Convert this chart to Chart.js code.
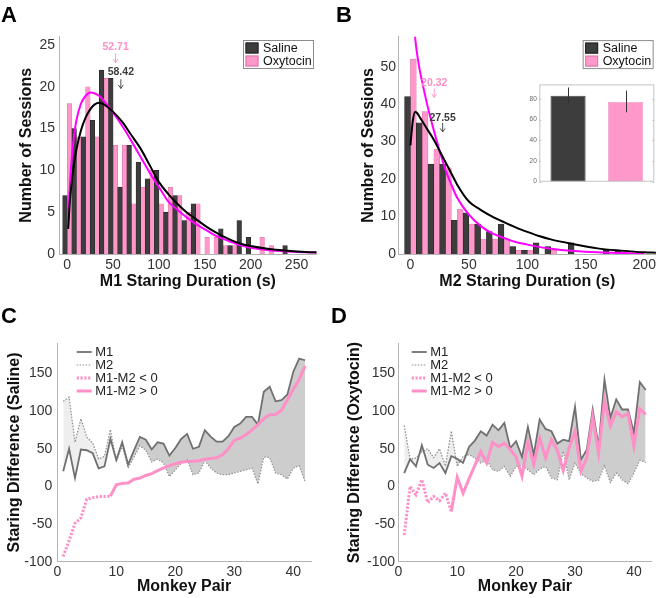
<!DOCTYPE html>
<html>
<head>
<meta charset="utf-8">
<title>Staring duration</title>
<script src="https://cdn.jsdelivr.net/npm/chart.js@4.4.1/dist/chart.umd.min.js"></script>
<style>
  html, body { margin: 0; padding: 0; background: #fff; }
  body { position: relative; width: 659px; height: 598px; overflow: hidden; }
  .panel { position: absolute; }
  .tag { position: absolute; font: bold 22px 'Liberation Sans', Arial, sans-serif; line-height: 1; color: #000; }
</style>
</head>
<body>
<canvas id="chartA" class="panel" width="330" height="300" style="left:0;top:0"></canvas>
<canvas id="chartB" class="panel" width="329" height="300" style="left:330px;top:0"></canvas>
<canvas id="inset" class="panel" width="139" height="112" style="left:520px;top:78px"></canvas>
<canvas id="chartC" class="panel" width="330" height="298" style="left:0;top:300px"></canvas>
<canvas id="chartD" class="panel" width="329" height="298" style="left:330px;top:300px"></canvas>
<div class="tag" style="left:1px;top:4px">A</div>
<div class="tag" style="left:336px;top:4px">B</div>
<div class="tag" style="left:1px;top:305px">C</div>
<div class="tag" style="left:331px;top:305px">D</div>
<script>
// ---- data ----
const groups = ['Saline', 'Oxytocin'];

// A: M1 staring duration histogram (10 s bins)
const binsA = [0, 10, 20, 30, 40, 50, 60, 70, 80, 90, 100, 110, 120, 130, 140, 150, 160, 170, 180, 190, 200, 210, 220, 230, 240, 250, 260];
const salineA = [7, 15, 14, 16, 22, 21, 8, 13, 11, 9, 10, 5, 7, 4, 6, 0, 0, 3, 1, 4, 2, 0, 0, 0, 1, 0, 0];
const oxytocinA = [18, 14, 20, 14, 21, 13, 13, 6, 8, 10, 6, 8, 7, 5, 6, 2, 2, 1, 1, 0, 0, 2, 1, 0, 0, 0, 0];
const fitXA = [1, 3, 5, 8, 10, 15, 20, 25, 30, 35, 40, 50, 60, 70, 80, 90, 100, 110, 120, 130, 140, 150, 160, 170, 180, 190, 200, 220, 240, 260, 272];
const fitSalineA = [3, 6.5, 8.7, 11.2, 12.5, 14.8, 16.3, 17.3, 17.9, 18.1, 17.9, 17.0, 15.8, 14.2, 12.6, 10.6, 8.6, 7.2, 6.0, 5.0, 4.2, 3.4, 2.7, 2.1, 1.6, 1.2, 0.95, 0.6, 0.4, 0.25, 0.2];
const fitOxytocinA = [4, 8.5, 11.6, 14.6, 16, 18.0, 18.9, 19.3, 19.2, 18.9, 18.3, 16.9, 15.3, 13.5, 11.6, 9.7, 8.0, 6.3, 5.3, 4.4, 3.6, 2.95, 2.3, 1.8, 1.4, 1.0, 0.75, 0.45, 0.3, 0.2, 0.15];
const meansA = [58.42, 52.71];
const ticksXA = [0, 50, 100, 150, 200, 250];
const ticksYA = [0, 5, 10, 15, 20, 25];

// B: M2 staring duration histogram
const binsB = [0, 10, 20, 30, 40, 50, 60, 70, 80, 90, 100, 110, 120, 130, 140, 150, 160, 170, 180, 190, 200];
const salineB = [42, 35, 24, 24, 9, 11, 8, 6, 8, 2, 1, 3, 2, 0, 3, 0, 0, 1, 1, 0, 0];
const oxytocinB = [52, 38, 28, 23, 12, 8, 4, 4, 4, 1, 1, 0, 1, 0, 0, 0, 0, 0, 1, 0, 0];
const fitSalineXB = [0, 1, 2, 4, 6, 8, 10, 15, 20, 25, 30, 35, 40, 50, 60, 70, 80, 90, 100, 110, 120, 140, 160, 180, 200, 210];
const fitSalineB = [29, 32.5, 35.5, 38, 37.5, 36.5, 35.5, 33, 30.5, 27.5, 24.5, 21.5, 18.5, 14, 11.8, 10.0, 8.5, 7.1, 5.9, 4.8, 3.9, 2.6, 1.5, 0.9, 0.45, 0.35];
const fitOxytocinXB = [3, 5, 8, 10, 15, 20, 25, 30, 35, 40, 50, 60, 70, 80, 90, 100, 110, 120, 140, 160, 180, 200];
const fitOxytocinB = [61, 55, 49, 46, 39, 33, 27.5, 22.5, 18.5, 15, 10.5, 7.5, 5.5, 4.3, 3.2, 2.5, 1.9, 1.4, 0.8, 0.45, 0.25, 0.12];
const meansB = [27.55, 20.32];
const ticksXB = [0, 50, 100, 150, 200];
const ticksYB = [0, 10, 20, 30, 40, 50];

// B inset: mean with error bars
const insetMeans = [83, 77];
const insetLow = [74, 67];
const insetHigh = [91, 88];
const insetTicks = [0, 20, 40, 60, 80];

// C / D: per monkey pair
const pairs = [1, 2, 3, 4, 5, 6, 7, 8, 9, 10, 11, 12, 13, 14, 15, 16, 17, 18, 19, 20, 21, 22, 23, 24, 25, 26, 27, 28, 29, 30, 31, 32, 33, 34, 35, 36, 37, 38, 39, 40, 41, 42];
const m1C = [20, 50, 11, 49, 48, 44, 24, 26.6, 63, 35, 58.6, 29, 48, 65.7, 62, 49, 58.6, 56.8, 40.8, 51, 63, 69.7, 50, 52.5, 74.5, 66, 59.5, 59.5, 66.6, 79, 83.4, 92.3, 92.3, 82, 125.6, 132.3, 113, 114.5, 122, 152.3, 169.7, 167.5];
const m2C = [113, 118.5, 58.6, 89.7, 65.2, 57.7, 36.4, 40, 75.5, 33, 54, 24.3, 39, 54, 48, 32.4, 36.4, 31, 13, 22, 31, 35.6, 15.5, 17.7, 34.4, 24.2, 17.7, 15.5, 15.5, 17.7, 19.9, 22.1, 24.2, 3.3, 38.8, 38.4, 17.7, 15.5, 9.7, 24.2, 27.3, 6.4];
const diffC = [-93, -72, -49, -42, -17, -15, -13.5, -13.5, -13, 2, 4, 4.5, 9.5, 11, 14.5, 17, 21, 24.5, 27.5, 30, 32, 33, 33.5, 34, 36, 37, 38, 42, 50, 61, 64, 69, 75, 82, 90, 95, 95.5, 101, 115, 129, 142, 160];
const m1D = [17.7, 36, 26.6, 54.6, 28.8, 24.4, 31, 17.7, 40, 36.8, 31.2, 52.4, 60.8, 73.2, 67.5, 82, 74.5, 84.3, 51, 60, 39, 79, 42, 88.8, 76.3, 73.2, 56.8, 62, 60, 105.7, 35.5, 48.8, 102.1, 53, 142, 91.1, 115.5, 102.1, 102.1, 71, 138.6, 128];
const m2D = [81, 36, 37.6, 46, 50, 38, 50, 27, 73.5, 26.5, 40, 42, 37.7, 31, 35.5, 22, 20, 26.5, 13.2, 26.5, 28, 22, 15.5, 23, 26.5, 11, 8.8, 46.5, 8.8, 31, 17, 11, 6.7, 8, 27.5, 5.2, 17.7, 8.8, 3.5, 17.7, 34.6, 31.9];
const diffD = [-64.6, 0, -11, 8.8, -21.4, -13.4, -19, -9, -33.5, 12, -9, 10, 28, 46, 31, 58.5, 53, 57.5, 49, 39, 13.5, 59, 29, 64, 38, 62, 48, 21, 51, 73, 20, 38, 92, 44, 114, 80, 99, 92.5, 97, 54, 103, 95.5];
const negCount = 9; // first pairs drawn with the dotted "M1-M2 < 0" style
const ticksXC = [0, 10, 20, 30, 40];
const ticksYC = [-100, -50, 0, 50, 100, 150];

// ---- styles ----
const FONT = "'Liberation Sans', Arial, Helvetica, sans-serif";
const DARK = '#3d3d3d';
const PINK = '#ff98ca';
const PINK_LINE = '#ff8fc7';
const MAGENTA = '#ff00ff';

Chart.defaults.font.family = FONT;
Chart.defaults.color = '#333';
Chart.defaults.animation = false;

const pts = (xs, ys) => xs.map((x, i) => ({ x: x, y: ys[i] }));

function linearAxis(o) {
  return {
    type: 'linear',
    min: o.min,
    max: o.max,
    offset: false,
    grid: { display: false, drawTicks: false },
    border: { display: true, color: '#b4b4b4', width: 1 },
    ticks: { font: { size: 14 }, color: '#333', padding: o.tickPad, maxRotation: 0, autoSkip: false, callback: v => String(v) },
    title: { display: true, text: o.title, color: '#111', font: { size: 16, weight: 'bold' }, padding: o.titlePad },
    afterBuildTicks: s => { s.ticks = o.ticks.map(v => ({ value: v })); },
    afterFit: s => { if (s.isHorizontal()) s.height = o.size; else s.width = o.size; }
  };
}

// mean value labels with a small down arrow
const meanMarks = {
  id: 'meanMarks',
  afterDatasetsDraw(chart, args, opts) {
    const { ctx, scales: { x, y } } = chart;
    ctx.save();
    opts.items.forEach(m => {
      const px = x.getPixelForValue(m.value);
      ctx.fillStyle = m.color;
      ctx.strokeStyle = m.color;
      ctx.font = 'bold 10.5px ' + FONT;
      ctx.textAlign = 'center';
      ctx.textBaseline = 'middle';
      ctx.fillText(m.value.toFixed(2), px, y.getPixelForValue(m.textY));
      const y1 = y.getPixelForValue(m.arrow[0]);
      const y2 = y.getPixelForValue(m.arrow[1]);
      ctx.lineWidth = 0.9;
      ctx.beginPath();
      ctx.moveTo(px, y1);
      ctx.lineTo(px, y2);
      ctx.moveTo(px - 2.5, y2 - 3.5);
      ctx.lineTo(px, y2);
      ctx.lineTo(px + 2.5, y2 - 3.5);
      ctx.stroke();
    });
    ctx.restore();
  }
};

// boxed legend in the upper right of the histograms
const boxLegend = {
  id: 'boxLegend',
  afterDraw(chart, args, o) {
    const { ctx, chartArea } = chart;
    const x0 = chartArea.right - o.right - o.width;
    const y0 = chartArea.top + o.top;
    ctx.save();
    ctx.fillStyle = '#fff';
    ctx.fillRect(x0, y0, o.width, o.height);
    ctx.strokeStyle = '#8c8c8c';
    ctx.lineWidth = 1;
    ctx.strokeRect(x0 + 0.5, y0 + 0.5, o.width, o.height);
    ctx.font = '12.5px ' + FONT;
    ctx.textBaseline = 'middle';
    ctx.textAlign = 'left';
    o.items.forEach((it, i) => {
      const yy = y0 + 2.5 + i * 13;
      ctx.fillStyle = it.color;
      ctx.fillRect(x0 + 2.5, yy, 13, 11);
      ctx.strokeStyle = it.border;
      ctx.strokeRect(x0 + 3, yy + 0.5, 12, 10);
      ctx.fillStyle = '#111';
      ctx.fillText(it.label, x0 + 20, yy + 6);
    });
    ctx.restore();
  }
};

// line-style legend for C and D
const lineLegend = {
  id: 'lineLegend',
  afterDraw(chart, args, o) {
    const { ctx, chartArea } = chart;
    ctx.save();
    ctx.font = '13px ' + FONT;
    ctx.textBaseline = 'middle';
    ctx.textAlign = 'left';
    o.items.forEach((it, i) => {
      const y = chartArea.top + o.top + i * 13;
      const x = chartArea.left + o.left;
      ctx.strokeStyle = it.color;
      ctx.lineWidth = it.width;
      ctx.setLineDash(it.dash || []);
      ctx.beginPath();
      ctx.moveTo(x, y);
      ctx.lineTo(x + 15, y);
      ctx.stroke();
      ctx.setLineDash([]);
      ctx.fillStyle = '#222';
      ctx.fillText(it.label, x + 18.5, y);
    });
    ctx.restore();
  }
};

// frame + error bars of the inset
const insetFrame = {
  id: 'insetFrame',
  afterDatasetsDraw(chart, args, o) {
    const { ctx, chartArea: a, scales: { y } } = chart;
    const meta = chart.getDatasetMeta(0);
    ctx.save();
    ctx.strokeStyle = '#c4c4c4';
    ctx.lineWidth = 1;
    ctx.strokeRect(a.left + 0.5, a.top + 0.5, a.right - a.left - 1, a.bottom - a.top - 1);
    insetTicks.forEach(v => {
      const py = Math.round(y.getPixelForValue(v)) + 0.5;
      ctx.beginPath();
      ctx.moveTo(a.left, py); ctx.lineTo(a.left + 2, py);
      ctx.moveTo(a.right, py); ctx.lineTo(a.right - 2, py);
      ctx.stroke();
    });
    ctx.strokeStyle = '#333';
    meta.data.forEach((bar, i) => {
      const px = Math.round(bar.x) + 0.5;
      ctx.beginPath();
      ctx.moveTo(px, y.getPixelForValue(o.low[i]));
      ctx.lineTo(px, y.getPixelForValue(o.high[i]));
      ctx.stroke();
    });
    ctx.restore();
  }
};

function histChart(id, cfg) {
  return new Chart(document.getElementById(id), {
    type: 'bar',
    data: {
      datasets: [
        { type: 'line', data: cfg.fitSaline, borderColor: '#000', borderWidth: 2, pointRadius: 0, cubicInterpolationMode: 'monotone', order: 0 },
        { type: 'line', data: cfg.fitOxytocin, borderColor: MAGENTA, borderWidth: 2, pointRadius: 0, cubicInterpolationMode: 'monotone', order: 0 },
        { label: groups[0], data: cfg.saline, backgroundColor: DARK, borderColor: '#222', borderWidth: 0.6, barPercentage: 1, categoryPercentage: 1, order: 1 },
        { label: groups[1], data: cfg.oxytocin, backgroundColor: PINK, borderColor: '#d879a9', borderWidth: 0.6, barPercentage: 1, categoryPercentage: 1, order: 1 }
      ]
    },
    options: {
      responsive: false,
      animation: false,
      layout: { padding: cfg.padding },
      plugins: {
        legend: { display: false },
        tooltip: { enabled: false },
        meanMarks: { items: cfg.marks },
        boxLegend: {
          right: cfg.legendRight, top: 3.4, width: 70, height: 28,
          items: [
            { label: groups[0], color: DARK, border: '#222' },
            { label: groups[1], color: PINK, border: '#d879a9' }
          ]
        }
      },
      scales: { x: cfg.x, y: cfg.y }
    },
    plugins: [meanMarks, boxLegend]
  });
}

histChart('chartA', {
  saline: pts(binsA, salineA),
  oxytocin: pts(binsA, oxytocinA),
  fitSaline: pts(fitXA, fitSalineA),
  fitOxytocin: pts(fitXA, fitOxytocinA),
  padding: { left: 0, top: 36.6, right: 13.3, bottom: 0 },
  legendRight: 3.7,
  marks: [
    { value: meansA[0], color: '#3d3d3d', textY: 21.7, arrow: [20.9, 19.8] },
    { value: meansA[1], color: PINK_LINE, textY: 24.7, arrow: [24.0, 22.9] }
  ],
  x: linearAxis({ min: -9, max: 272, ticks: ticksXA, title: 'M1 Staring Duration (s)', size: 46, tickPad: 3, titlePad: { bottom: 8.7 } }),
  y: linearAxis({ min: 0, max: 26, ticks: ticksYA, title: 'Number of Sessions', size: 59, tickPad: 4, titlePad: { top: 17 } })
});

histChart('chartB', {
  saline: pts(binsB, salineB),
  oxytocin: pts(binsB, oxytocinB),
  fitSaline: pts(fitSalineXB, fitSalineB),
  fitOxytocin: pts(fitOxytocinXB, fitOxytocinB),
  padding: { left: 0, top: 36.7, right: 1.75, bottom: 0 },
  legendRight: 3.3,
  marks: [
    { value: meansB[0], color: '#3d3d3d', textY: 36.2, arrow: [35.0, 32.6] },
    { value: meansB[1], color: PINK_LINE, textY: 45.6, arrow: [44.2, 41.8] }
  ],
  x: linearAxis({ min: -10, max: 210, ticks: ticksXB, title: 'M2 Staring Duration (s)', size: 46, tickPad: 3, titlePad: { bottom: 8.7 } }),
  y: linearAxis({ min: 0, max: 58, ticks: ticksYB, title: 'Number of Sessions', size: 68.75, tickPad: 2.75, titlePad: { top: 28.7 } })
});

new Chart(document.getElementById('inset'), {
  type: 'bar',
  data: {
    labels: groups,
    datasets: [{
      data: insetMeans,
      backgroundColor: [DARK, PINK],
      borderColor: ['#222', '#f0a0c8'],
      borderWidth: 0.8,
      barPercentage: 0.61,
      categoryPercentage: 1
    }]
  },
  options: {
    responsive: false,
    animation: false,
    layout: { padding: { left: 0, top: 6, right: 4.7, bottom: 0 } },
    plugins: { legend: { display: false }, tooltip: { enabled: false }, insetFrame: { low: insetLow, high: insetHigh } },
    scales: {
      x: { grid: { display: false, drawTicks: false }, border: { display: false }, ticks: { display: false }, afterFit: s => { s.height = 8.3; } },
      y: {
        min: 0, max: 94,
        grid: { display: false, drawTicks: false },
        border: { display: false },
        ticks: { font: { size: 6.5 }, color: '#666', padding: 2.5, callback: v => String(v) },
        afterBuildTicks: s => { s.ticks = insetTicks.map(v => ({ value: v })); },
        afterFit: s => { s.width = 19.3; }
      }
    }
  },
  plugins: [insetFrame]
});

const styleM1 = { color: '#707070', width: 1.8, dash: [] };
const styleM2 = { color: '#8e8e8e', width: 1.2, dash: [1.5, 1.5] };
const styleNeg = { color: PINK_LINE, width: 3, dash: [2.2, 1.6] };
const stylePos = { color: PINK_LINE, width: 3, dash: [] };

function pairChart(id, cfg) {
  return new Chart(document.getElementById(id), {
    type: 'line',
    data: {
      datasets: [
        { data: pts(pairs.slice(negCount - 1), cfg.diff.slice(negCount - 1)), borderColor: stylePos.color, borderWidth: stylePos.width, pointRadius: 0, fill: false },
        { data: pts(pairs.slice(0, negCount), cfg.diff.slice(0, negCount)), borderColor: styleNeg.color, borderWidth: styleNeg.width, borderDash: styleNeg.dash, pointRadius: 0, fill: false },
        { data: pts(pairs, cfg.m1), borderColor: styleM1.color, borderWidth: styleM1.width, pointRadius: 0,
          fill: { target: 3, above: '#cdcdcd', below: '#eeeeee' } },
        { data: pts(pairs, cfg.m2), borderColor: styleM2.color, borderWidth: styleM2.width, borderDash: styleM2.dash, pointRadius: 0, fill: false }
      ]
    },
    options: {
      responsive: false,
      animation: false,
      layout: { padding: cfg.padding },
      plugins: {
        legend: { display: false },
        tooltip: { enabled: false },
        filler: { drawTime: 'beforeDatasetsDraw' },
        lineLegend: {
          left: cfg.legendLeft, top: 8.7,
          items: [
            Object.assign({ label: 'M1' }, styleM1),
            Object.assign({ label: 'M2' }, styleM2),
            Object.assign({ label: 'M1-M2 < 0' }, styleNeg),
            Object.assign({ label: 'M1-M2 > 0' }, stylePos)
          ]
        }
      },
      scales: {
        x: linearAxis({ min: 0, max: 43, ticks: ticksXC, title: 'Monkey Pair', size: 36.3, tickPad: 1.6, titlePad: { bottom: 1.7 } }),
        y: linearAxis({ min: -100, max: 190, ticks: ticksYC, title: cfg.yTitle, size: cfg.yWidth, tickPad: cfg.yTickPad, titlePad: { top: cfg.yTitlePad } })
      }
    },
    plugins: [lineLegend]
  });
}

pairChart('chartC', {
  m1: m1C, m2: m2C, diff: diffC,
  padding: { left: 0, top: 43.3, right: 19, bottom: 0 },
  yTitle: 'Staring Difference (Saline)',
  yWidth: 57.3, yTickPad: 5, yTitlePad: 5.4,
  legendLeft: 19.4
});

pairChart('chartD', {
  m1: m1D, m2: m2D, diff: diffD,
  padding: { left: 0, top: 43.3, right: 7.4, bottom: 0 },
  yTitle: 'Staring Difference (Oxytocin)',
  yWidth: 68.3, yTickPad: 3.3, yTitlePad: 15.4,
  legendLeft: 13.4
});
</script>
</body>
</html>
